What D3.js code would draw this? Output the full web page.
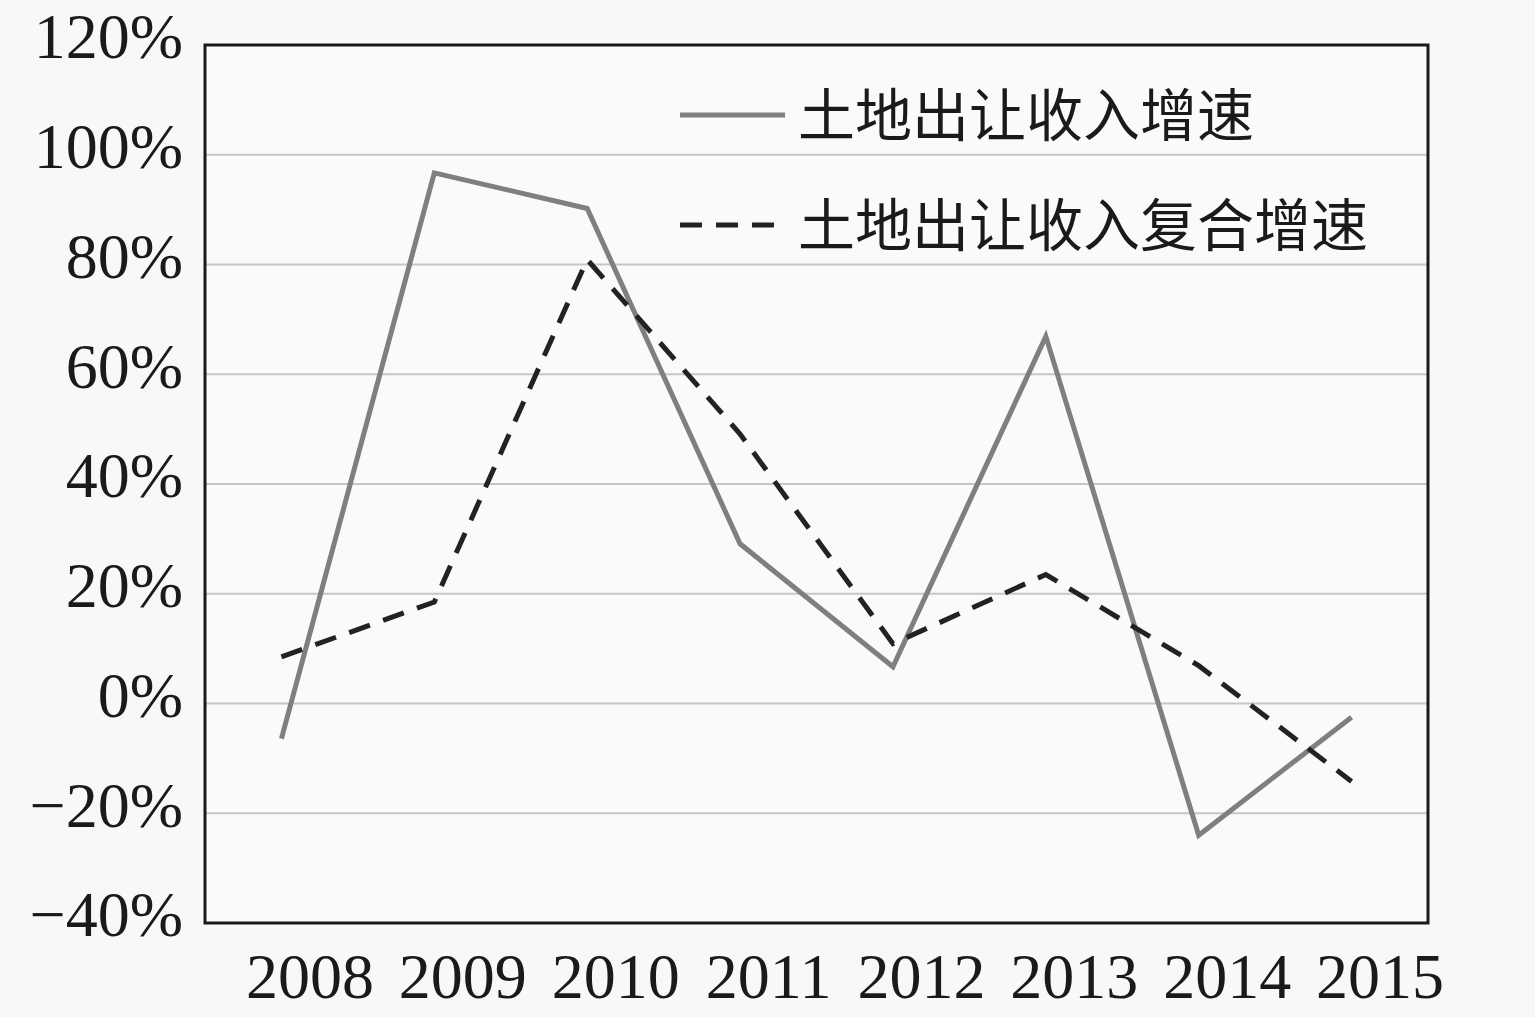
<!doctype html>
<html lang="zh">
<head>
  <meta charset="utf-8">
  <title>土地出让收入增速</title>
  <style>
  body { margin: 0; background: #f8f8f8; }
  svg { display: block; }
  .num { font-family: "Liberation Serif", "DejaVu Serif", serif; fill: #1a1a1a; }
  .cn { font-family: "Noto Sans CJK SC", sans-serif; fill: #1a1a1a; }
  </style>
</head>
<body>
  <div id="chart"></div>
  <script src="https://cdn.jsdelivr.net/npm/d3@7/dist/d3.min.js"></script>
  <script>
    var years = ["2008", "2009", "2010", "2011", "2012", "2013", "2014", "2015"];
    var growth = [-6.4, 96.7, 90.2, 29.1, 6.7, 66.9, -24.0, -2.5];
    var compoundGrowth = [8.5, 18.5, 80.9, 49.1, 10.9, 23.5, 6.9, -14.2];
    var yTicks = [-40, -20, 0, 20, 40, 60, 80, 100, 120];
    var seriesNames = ["土地出让收入增速", "土地出让收入复合增速"];

    (function(){
      var width = 1535, height = 1017;
      var left = 205, right = 1428, top = 45, bottom = 923;

      var svg = d3.select("#chart").append("svg")
          .attr("width", width)
          .attr("height", height);

      var x = d3.scalePoint().domain(years).range([left, right]).padding(0.5);
      var y = d3.scaleLinear().domain([-40, 120]).range([bottom, top]);

      // plot background
      svg.append("rect")
        .attr("x", left).attr("y", top)
        .attr("width", right - left).attr("height", bottom - top)
        .attr("fill", "#fafafa");

      // gridlines
      svg.append("g").selectAll("line")
        .data(yTicks.filter(function(d){ return d > -40 && d < 120; }))
        .enter().append("line")
        .attr("x1", left).attr("x2", right)
        .attr("y1", function(d){ return y(d); })
        .attr("y2", function(d){ return y(d); })
        .attr("stroke", "#c6c6c6")
        .attr("stroke-width", 2);

      // y axis labels
      var fmt = d3.format("d");
      var yAxis = d3.axisLeft(y).tickValues(yTicks).tickSize(0).tickPadding(22)
        .tickFormat(function(d){ return fmt(d) + "%"; });
      var gy = svg.append("g").attr("transform", "translate(" + left + ",0)").call(yAxis);
      gy.select(".domain").remove();
      gy.selectAll("text")
        .attr("class", "num")
        .attr("font-size", 64)
        .attr("dy", "0.2em");

      // x axis labels
      var xAxis = d3.axisBottom(x).tickSize(0).tickPadding(0);
      var gx = svg.append("g").attr("transform", "translate(28," + bottom + ")").call(xAxis);
      gx.select(".domain").remove();
      gx.selectAll("text")
        .attr("class", "num")
        .attr("font-size", 64)
        .attr("y", 75)
        .attr("dy", 0);

      var line = d3.line()
        .x(function(d, i){ return x(years[i]); })
        .y(function(d){ return y(d); });

      svg.append("path")
        .datum(growth)
        .attr("d", line)
        .attr("fill", "none")
        .attr("stroke", "#7f7f7f")
        .attr("stroke-width", 5)
        .attr("stroke-linejoin", "miter");

      svg.append("path")
        .datum(compoundGrowth)
        .attr("d", line)
        .attr("fill", "none")
        .attr("stroke", "#222")
        .attr("stroke-width", 5)
        .attr("stroke-dasharray", "22,14");

      // frame
      svg.append("rect")
        .attr("x", left).attr("y", top)
        .attr("width", right - left).attr("height", bottom - top)
        .attr("fill", "none")
        .attr("stroke", "#1a1a1a")
        .attr("stroke-width", 3);

      // legend
      var legend = svg.append("g");
      var styles = [
        { stroke: "#7f7f7f", width: 5, dash: null },
        { stroke: "#222", width: 5, dash: "22,14" }
      ];
      seriesNames.forEach(function(name, i){
        var ly = 115 + i * 110;
        legend.append("line")
          .attr("x1", 680).attr("x2", 785)
          .attr("y1", ly).attr("y2", ly)
          .attr("stroke", styles[i].stroke)
          .attr("stroke-width", styles[i].width)
          .attr("stroke-dasharray", styles[i].dash);
        legend.append("text")
          .attr("class", "cn")
          .attr("x", 798)
          .attr("y", ly)
          .attr("dy", "0.36em")
          .attr("font-size", 57)
          .text(name);
      });
    })();
  </script>
</body>
</html>
